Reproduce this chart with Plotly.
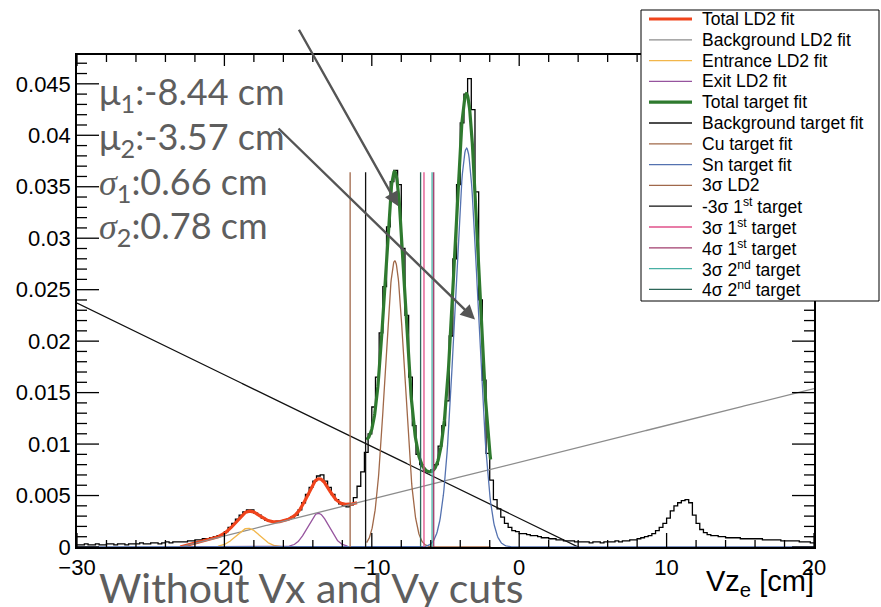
import numpy as np
import plotly.graph_objects as go

# ---- Vz_e histogram: 200 bins from -30 to 20 cm (normalised counts) ----
hist_lo, hist_hi, n_bins = -30.0, 20.0, 200
hist_counts = [
    0.0002, 0.0002, 0.0003, 0.0002, 0.0002, 0.0003, 0.0002, 0.0002, 0.0003, 0.0003,
    0.0002, 0.0003, 0.0003, 0.0002, 0.0003, 0.0003, 0.0003, 0.0004, 0.0003, 0.0003,
    0.0004, 0.0004, 0.0003, 0.0004, 0.0005, 0.0004, 0.0005, 0.0005, 0.0005, 0.0005,
    0.0006, 0.0006, 0.0007, 0.0007, 0.0008, 0.0008, 0.0009, 0.0010, 0.0011, 0.0012,
    0.0015, 0.0019, 0.0023, 0.0027, 0.0031, 0.0034, 0.0036, 0.0036, 0.0033, 0.0031,
    0.0028, 0.0026, 0.0025, 0.0024, 0.0025, 0.0025, 0.0026, 0.0027, 0.0029, 0.0031,
    0.0036, 0.0043, 0.0051, 0.0058, 0.0064, 0.0069, 0.0070, 0.0064, 0.0058, 0.0051,
    0.0046, 0.0042, 0.0040, 0.0039, 0.0041, 0.0048, 0.0059, 0.0073, 0.0092, 0.0110,
    0.0136, 0.0165, 0.0208, 0.0253, 0.0311, 0.0355, 0.0366, 0.0352, 0.0290, 0.0225,
    0.0165, 0.0118, 0.0090, 0.0080, 0.0074, 0.0073, 0.0075, 0.0080, 0.0098, 0.0118,
    0.0142, 0.0205, 0.0280, 0.0352, 0.0412, 0.0440, 0.0455, 0.0425, 0.0345, 0.0240,
    0.0162, 0.0091, 0.0065, 0.0046, 0.0037, 0.0029, 0.0023, 0.0019, 0.0016, 0.0015,
    0.0013, 0.0013, 0.0012, 0.0011, 0.0011, 0.0010, 0.0009, 0.0009, 0.0008, 0.0008,
    0.0007, 0.0007, 0.0006, 0.0006, 0.0006, 0.0005, 0.0005, 0.0005, 0.0005, 0.0004,
    0.0005, 0.0005, 0.0004, 0.0005, 0.0005, 0.0005, 0.0006, 0.0005, 0.0006, 0.0006,
    0.0007, 0.0007, 0.0008, 0.0009, 0.0010, 0.0011, 0.0013, 0.0016, 0.0019, 0.0023,
    0.0028, 0.0035, 0.0040, 0.0043, 0.0045, 0.0046, 0.0043, 0.0031, 0.0023, 0.0017,
    0.0014, 0.0012, 0.0011, 0.0011, 0.0010, 0.0010, 0.0009, 0.0009, 0.0009, 0.0009,
    0.0008, 0.0008, 0.0008, 0.0008, 0.0008, 0.0008, 0.0007, 0.0007, 0.0007, 0.0007,
    0.0007, 0.0006, 0.0006, 0.0006, 0.0006, 0.0006, 0.0005, 0.0005, 0.0005, 0.0004,
]

# ---- LD2 fit: linear background + entrance / exit window gaussians ----
ld2_range = (-23.0, -11.0)
ld2_bkg = (0.008234, 0.000358)            # p0, p1
entrance = (0.00182, -18.40, 0.80)        # amplitude, mean, sigma
exit_win = (0.00327, -13.63, 0.72)

# ---- solid target fit: linear background + Cu / Sn gaussians ----
target_range = (-10.35, -1.94)
target_bkg = (0.002788, -0.000697)
mu1, sigma1, amp1 = -8.44, 0.66, 0.0278   # Cu
mu2, sigma2, amp2 = -3.57, 0.78, 0.03875  # Sn

cut_line_top = 0.0364
y_max = 0.0478

# axis divisions (major / minor)
x_major = [-30, -20, -10, 0, 10, 20]
x_minor = [v for v in range(-30, 21, 2) if v not in x_major]
y_major = [0, 0.005, 0.01, 0.015, 0.02, 0.025, 0.03, 0.035, 0.04, 0.045]
y_minor = [round(0.001 * k, 3) for k in range(0, 48) if k % 5 != 0]


def gauss(x, p):
    a, m, s = p
    return a * np.exp(-0.5 * ((x - m) / s) ** 2)


def pol1(x, p):
    return p[0] + p[1] * x


fig = go.Figure()

edges = np.linspace(hist_lo, hist_hi, n_bins + 1)
fig.add_trace(go.Scatter(
    x=edges, y=list(hist_counts) + [hist_counts[-1]],
    mode="lines", line=dict(color="black", width=1.3, shape="hv"),
    showlegend=False, hoverinfo="skip"))

xl = np.linspace(*ld2_range, 400)
xt = np.linspace(*target_range, 400)
xfull = np.linspace(hist_lo, hist_hi, 1200)

curves = [
    ("Total LD2 fit", xl, pol1(xl, ld2_bkg) + gauss(xl, entrance) + gauss(xl, exit_win), "#f0441c", 3.2),
    ("Background LD2 fit", xfull, pol1(xfull, ld2_bkg), "#8c8c8c", 1.3),
    ("Entrance LD2 fit", xl, gauss(xl, entrance), "#f2b64a", 1.3),
    ("Exit LD2 fit", xl, gauss(xl, exit_win), "#96549e", 1.3),
    ("Total target fit", xt, pol1(xt, target_bkg) + gauss(xt, (amp1, mu1, sigma1)) + gauss(xt, (amp2, mu2, sigma2)), "#2f7a2f", 3.2),
    ("Background target fit", xfull, pol1(xfull, target_bkg), "#111111", 1.3),
    ("Cu target fit", xt, gauss(xt, (amp1, mu1, sigma1)), "#a06848", 1.3),
    ("Sn target fit", xfull, gauss(xfull, (amp2, mu2, sigma2)), "#5472b0", 1.3),
]
for name, xx, yy, col, w in curves:
    fig.add_trace(go.Scatter(x=xx, y=yy, mode="lines", name=name, showlegend=False,
                             line=dict(color=col, width=w), hoverinfo="skip"))

cuts = [
    ("3σ LD2", exit_win[1] + 3 * exit_win[2], "#a0684a"),
    ("-3σ 1<sup>st</sup> target", mu1 - 3 * sigma1, "#111111"),
    ("3σ 1<sup>st</sup> target", mu1 + 3 * sigma1, "#e0508a"),
    ("4σ 1<sup>st</sup> target", mu1 + 4 * sigma1, "#a03c6c"),
    ("3σ 2<sup>nd</sup> target", mu2 - 3 * sigma2, "#48b0a4"),
    ("4σ 2<sup>nd</sup> target", mu2 - 4 * sigma2, "#2c6658"),
]
for name, xc, col in cuts:
    fig.add_trace(go.Scatter(x=[xc, xc], y=[0, cut_line_top], mode="lines", name=name,
                             showlegend=False, line=dict(color=col, width=1.3), hoverinfo="skip"))

# ---- ROOT-style tick marks on all four frame edges, pointing into the frame ----
# positions along the axis are data values; tick lengths are fixed in pixels
tick_line = dict(color="black", width=1.3)


def x_ticks(vals, edge, length):
    for v in vals:
        fig.add_shape(type="line", xref="x", yref="y", ysizemode="pixel", yanchor=edge,
                      x0=v, x1=v, y0=0, y1=length, line=tick_line, layer="above")


def y_ticks(vals, edge, length):
    for v in vals:
        fig.add_shape(type="line", xref="x", yref="y", xsizemode="pixel", xanchor=edge,
                      y0=v, y1=v, x0=0, x1=length, line=tick_line, layer="above")


x_ticks(x_major, 0, 14)
x_ticks(x_minor, 0, 7)
x_ticks(x_major, y_max, -11)
x_ticks(x_minor, y_max, -7)
y_ticks(y_major, hist_lo, 22)
y_ticks(y_minor, hist_lo, 10)
y_ticks(y_major, hist_hi, -22)
y_ticks(y_minor, hist_hi, -10)

tick_font = dict(family="Liberation Sans, Arial, sans-serif", size=22, color="black")
fig.update_xaxes(range=[hist_lo, hist_hi], tickmode="array", tickvals=x_major, ticks="",
                 showline=True, linecolor="black", linewidth=1.5, mirror=True,
                 showgrid=False, zeroline=False, tickfont=tick_font)
fig.update_yaxes(range=[0, y_max], tickmode="array", tickvals=y_major,
                 ticktext=[f"{v:g}" for v in y_major], ticks="",
                 showline=True, linecolor="black", linewidth=1.5, mirror=True,
                 showgrid=False, zeroline=False, tickfont=tick_font)

# ---- legend box (drawn in paper coordinates) ----
plot_l, plot_r, plot_t, plot_b = 77, 814, 55, 547


def px_x(p):
    return (p - plot_l) / (plot_r - plot_l)


def px_y(p):
    return (plot_b - p) / (plot_b - plot_t)


legend_entries = [(c[0], c[3], c[4]) for c in curves] + [(c[0], c[2], 1.3) for c in cuts]
fig.add_shape(type="rect", xref="paper", yref="paper",
              x0=px_x(641), x1=px_x(879), y0=px_y(301), y1=px_y(10),
              line=dict(color="black", width=1), fillcolor="white", layer="above")
row0, row_h = 19.0, 20.8
for k, (name, col, w) in enumerate(legend_entries):
    yy = px_y(row0 + k * row_h)
    fig.add_shape(type="line", xref="paper", yref="paper",
                  x0=px_x(649), x1=px_x(692), y0=yy, y1=yy,
                  line=dict(color=col, width=w), layer="above")
    fig.add_annotation(text=name, xref="paper", yref="paper", x=px_x(700), y=yy,
                       xanchor="left", yanchor="middle", showarrow=False,
                       font=dict(family="Liberation Sans, Arial, sans-serif", size=17.5, color="black"))

# ---- fitted parameters and caption ----
sig = "<span style=\"font-family:'Liberation Serif';font-style:italic\">σ</span>"
param_lines = [f"μ<sub>1</sub>:{mu1:.2f} cm", f"μ<sub>2</sub>:{mu2:.2f} cm",
               f"{sig}<sub>1</sub>:{sigma1:.2f} cm", f"{sig}<sub>2</sub>:{sigma2:.2f} cm"]

grey = "#5e5e5e"
for k, line in enumerate(param_lines):
    fig.add_annotation(text=line, xref="paper", yref="paper", x=px_x(97), y=px_y(94 + 44.5 * k),
                       xanchor="left", yanchor="middle", align="left", showarrow=False,
                       font=dict(family="Lato, sans-serif", size=36, color=grey))
fig.add_annotation(text="Without Vx and Vy cuts", xref="paper", yref="paper",
                   x=px_x(97), y=px_y(587), xanchor="left", yanchor="middle", showarrow=False,
                   font=dict(family="Lato, sans-serif", size=41, color=grey))
fig.add_annotation(text="Vz<sub>e</sub> [cm]", xref="paper", yref="paper",
                   x=px_x(816), y=px_y(583), xanchor="right", yanchor="middle", showarrow=False,
                   font=dict(family="Liberation Sans, Arial, sans-serif", size=29, color="black"))

# arrows pointing at the two target peaks
for (hx, hy, tx, ty) in [(-8.2, 0.0331, -15.0, 0.0504), (-3.0, 0.0221, -16.43, 0.0408)]:
    fig.add_annotation(x=hx, y=hy, ax=tx, ay=ty, xref="x", yref="y", axref="x", ayref="y",
                       text="", showarrow=True, arrowhead=2, arrowsize=1.2,
                       arrowwidth=2.4, arrowcolor="#555555")

fig.update_layout(
    width=881, height=607,
    margin=dict(l=plot_l, r=881 - plot_r, t=plot_t, b=607 - plot_b),
    plot_bgcolor="white", paper_bgcolor="white",
    showlegend=False,
)

fig.write_html("out.html")
